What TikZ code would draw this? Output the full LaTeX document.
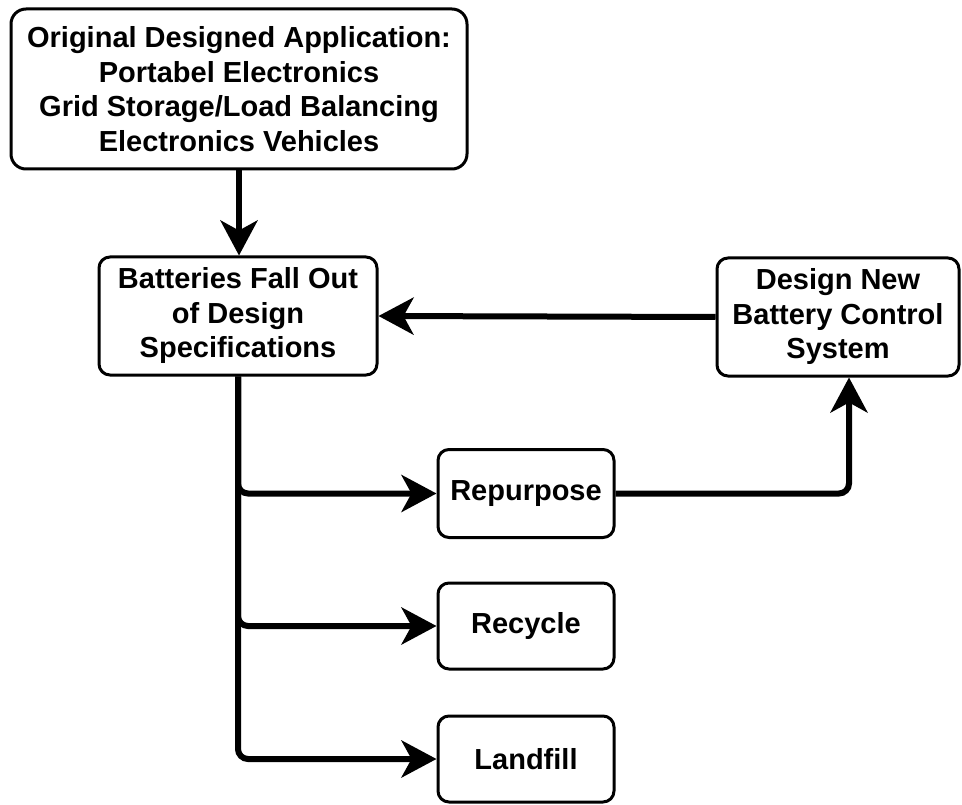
\documentclass[tikz,border=0pt]{standalone}
\usepackage{fontspec}
\setmainfont{Liberation Sans}
\usetikzlibrary{arrows.meta}
\begin{document}
\begin{tikzpicture}[x=1pt,y=-1pt,
  box/.style={draw, line width=3pt, rounded corners=11pt, align=center,
    font=\bfseries\fontsize{29}{34.5}\selectfont, inner sep=0pt},
  conn/.style={line width=6pt, -{Stealth[length=35pt,width=37pt,inset=10pt]}, rounded corners=10pt}]
\useasboundingbox (0,0) rectangle (962,805);
\node[box, rounded corners=15pt, minimum width=456pt, minimum height=160pt] (orig) at (239,89)
  {Original Designed Application:\\Portabel Electronics\\Grid Storage/Load Balancing\\Electronics Vehicles};
\node[box, minimum width=278pt, minimum height=118pt] (bat) at (238,316)
  {Batteries Fall Out\\of Design\\Specifications};
\node[box, minimum width=242pt, minimum height=118pt] (design) at (838,317)
  {Design New\\Battery Control\\System};
\node[box, minimum width=176pt, minimum height=88pt] (rep) at (526,493.5) {Repurpose};
\node[box, minimum width=176pt, minimum height=86pt] (rec) at (526,626) {Recycle};
\node[box, minimum width=176pt, minimum height=86pt] (land) at (526,759) {Landfill};
\draw[conn] (orig.south) -- (orig.south |- bat.north);
\draw[conn] (design.west) -- (bat.east);
\draw[conn] (bat.south) |- (rep.west);
\draw[conn] (bat.south) |- (rec.west);
\draw[conn] (bat.south) |- (land.west);
\coordinate (upend) at ([xshift=11pt]design.south);
\draw[conn] (rep.east) -| (upend);
\end{tikzpicture}
\end{document}
